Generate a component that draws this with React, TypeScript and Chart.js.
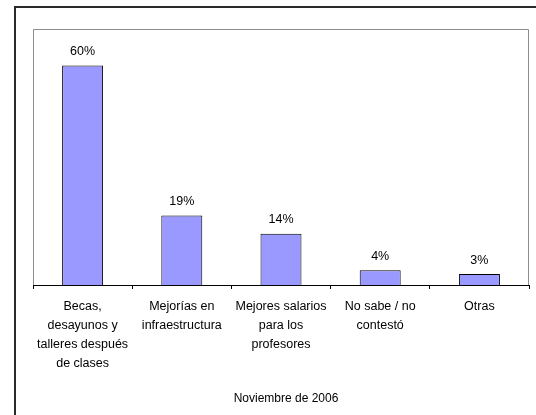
import React, { useEffect, useRef } from "react";
import { Chart, registerables } from "chart.js";

Chart.register(...registerables);

const categories: string[][] = [
  ["Becas,", "desayunos y", "talleres después", "de clases"],
  ["Mejorías en", "infraestructura"],
  ["Mejores salarios", "para los", "profesores"],
  ["No sabe / no", "contestó"],
  ["Otras"],
];
const values: number[] = [60, 19, 14, 4, 3];
const footerTitle = "Noviembre de 2006";

const FONT = "'Liberation Sans', Arial, sans-serif";

export default function App() {
  const ref = useRef<HTMLCanvasElement | null>(null);

  useEffect(() => {
    if (!ref.current) return;
    const areaBorder = {
      id: "areaBorder",
      beforeDatasetsDraw(chart: any) {
        const { ctx, chartArea } = chart;
        ctx.save();
        ctx.strokeStyle = "#8c8c8c";
        ctx.lineWidth = 1;
        ctx.beginPath();
        const l = Math.round(chartArea.left) + 0.5;
        const r = Math.round(chartArea.right) - 0.5;
        const t = Math.round(chartArea.top) + 0.5;
        const b = Math.round(chartArea.bottom);
        ctx.moveTo(l, b);
        ctx.lineTo(l, t);
        ctx.lineTo(r, t);
        ctx.lineTo(r, b);
        ctx.stroke();
        ctx.restore();
      },
    };
    const valueLabels = {
      id: "valueLabels",
      afterDatasetsDraw(chart: any) {
        const { ctx } = chart;
        const meta = chart.getDatasetMeta(0);
        ctx.save();
        ctx.fillStyle = "#000";
        ctx.font = `12.5px ${FONT}`;
        ctx.textAlign = "center";
        ctx.textBaseline = "alphabetic";
        meta.data.forEach((bar: any, i: number) => {
          ctx.fillText(values[i] + "%", bar.x, bar.y - 10.5);
        });
        ctx.restore();
      },
    };
    const chart = new Chart(ref.current, {
      type: "bar",
      data: {
        labels: categories as any,
        datasets: [
          {
            data: values,
            backgroundColor: "#9999ff",
            borderColor: "#000000",
            borderWidth: 1,
            categoryPercentage: 1,
            barPercentage: 0.413,
          },
        ],
      },
      options: {
        animation: false,
        responsive: false,
        maintainAspectRatio: false,
        layout: { padding: { left: 33, right: 7, top: 29, bottom: 0 } },
        plugins: {
          legend: { display: false },
          tooltip: { enabled: false },
          title: {
            display: true,
            position: "bottom",
            text: footerTitle,
            color: "#000",
            font: { family: FONT, size: 12, weight: "normal" as any, lineHeight: 1.2 },
            padding: { top: 0, bottom: 8.8 },
          },
        },
        scales: {
          x: {
            offset: true,
            afterFit: (scale: any) => {
              scale.height = 106.8;
            },
            grid: {
              display: true,
              offset: true,
              drawOnChartArea: false,
              drawTicks: true,
              tickLength: 4,
              color: "#000",
            },
            border: { display: true, color: "#000", width: 1 },
            ticks: {
              color: "#000",
              padding: 8,
              maxRotation: 0,
              autoSkip: false,
              font: { family: FONT, size: 12.5, lineHeight: 1.52 },
            },
          },
          y: {
            display: true,
            position: "right",
            min: 0,
            max: 70,
            afterFit: (scale: any) => {
              scale.width = 10;
            },
            grid: { display: false },
            border: { display: false },
            ticks: { display: false },
          },
        },
      },
      plugins: [areaBorder, valueLabels],
    });
    return () => chart.destroy();
  }, []);

  return (
    <div style={{ position: "absolute", left: 0, top: 0, width: 536, height: 415, overflow: "hidden", background: "#fff" }}>
      <div
        style={{
          position: "absolute",
          left: 14,
          top: 6,
          width: 600,
          height: 500,
          borderLeft: "2px solid #2a2a2a",
          borderTop: "2px solid #2a2a2a",
        }}
      />
      <canvas ref={ref} width={546} height={415} style={{ position: "absolute", left: 0, top: 0, width: 546, height: 415 }} />
    </div>
  );
}
